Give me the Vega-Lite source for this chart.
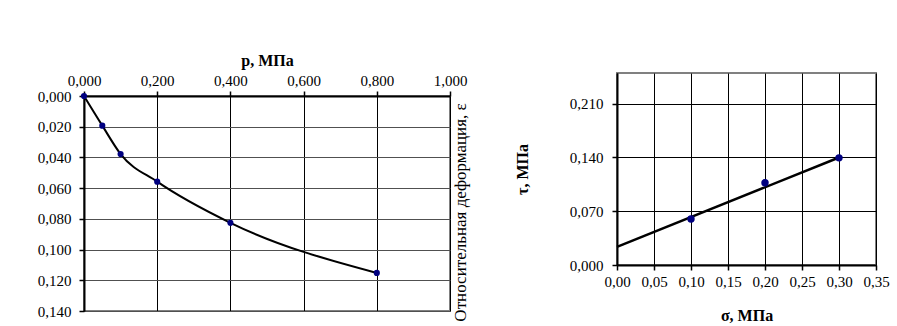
{
  "$schema": "https://vega.github.io/schema/vega-lite/v6.json",
  "padding": {"left": 36, "top": 50, "right": 0, "bottom": 0},
  "background": "white",
  "spacing": 44,
  "config": {
    "font": "Liberation Serif",
    "view": {"stroke": "#808080", "strokeWidth": 2},
    "axis": {
      "labelFont": "Liberation Serif", "labelFontSize": 15, "labelColor": "black",
      "labelOverlap": false, "labelFlush": false,
      "titleFont": "Liberation Serif", "titleFontSize": 16, "titleFontWeight": "bold", "titleColor": "black",
      "domainColor": "black", "domainWidth": 2, "tickColor": "black", "tickSize": 5, "tickWidth": 1.5,
      "gridColor": "black", "gridOpacity": 1, "gridWidth": 1
    }
  },
  "hconcat": [
    {"spacing": 0, "vconcat": [
      {"width": 1, "height": 1, "view": {"stroke": null}, "data": {"values": []}, "mark": "point", "encoding": {}},
      {
        "width": 366,
        "height": 215,
        "data": {"values": [
          {"p": 0.0, "e": 0.0},
          {"p": 0.05, "e": 0.0193},
          {"p": 0.1, "e": 0.0378},
          {"p": 0.2, "e": 0.0558},
          {"p": 0.4, "e": 0.0826},
          {"p": 0.8, "e": 0.1152}
        ]},
        "encoding": {
          "x": {"field": "p", "type": "quantitative",
            "scale": {"domain": [0, 1], "nice": false},
            "axis": {"orient": "top", "values": [0, 0.2, 0.4, 0.6, 0.8, 1.0], "title": "p, МПа",
              "labelExpr": "replace(format(datum.value, '.3f'), '.', ',')",
              "labelPadding": 3, "titlePadding": 5, "gridColor": "black"}},
          "y": {"field": "e", "type": "quantitative",
            "scale": {"domain": [0, 0.14], "reverse": true, "nice": false},
            "axis": {"orient": "left", "values": [0, 0.02, 0.04, 0.06, 0.08, 0.1, 0.12, 0.14],
              "title": "Относительная деформация, ε",
              "labelExpr": "replace(format(datum.value, '.3f'), '.', ',')",
              "labelPadding": 8, "gridColor": "#505050",
              "titleFontWeight": "normal", "titleFontSize": 17,
              "titleX": 376, "titleY": 116, "titleAngle": 270, "titleBaseline": "middle", "titleAlign": "center"}}
        },
        "layer": [
          {"mark": {"type": "line", "interpolate": "monotone", "color": "black", "strokeWidth": 2}},
          {"mark": {"type": "circle", "color": "#000080", "size": 38, "opacity": 1}}
        ]
      }
    ]},
    {"spacing": 0, "vconcat": [
      {"width": 1, "height": 22, "view": {"stroke": null}, "data": {"values": []}, "mark": "point", "encoding": {}},
      {
        "width": 259,
        "height": 192,
        "data": {"values": [
          {"sigma": 0.1, "tau": 0.060, "series": "points"},
          {"sigma": 0.2, "tau": 0.107, "series": "points"},
          {"sigma": 0.3, "tau": 0.1395, "series": "points"},
          {"sigma": 0.0, "tau": 0.0235, "series": "trend"},
          {"sigma": 0.3, "tau": 0.1400, "series": "trend"}
        ]},
        "encoding": {
          "x": {"field": "sigma", "type": "quantitative",
            "scale": {"domain": [0, 0.35], "nice": false},
            "axis": {"values": [0, 0.05, 0.1, 0.15, 0.2, 0.25, 0.3, 0.35], "title": "σ, МПа",
              "labelExpr": "replace(format(datum.value, '.2f'), '.', ',')",
              "labelPadding": 4, "titlePadding": 18}},
          "y": {"field": "tau", "type": "quantitative",
            "scale": {"domain": [0, 0.25], "nice": false},
            "axis": {"values": [0, 0.07, 0.14, 0.21], "title": "τ, МПа",
              "labelExpr": "replace(format(datum.value, '.3f'), '.', ',')",
              "labelPadding": 9, "titlePadding": 39}}
        },
        "layer": [
          {"transform": [{"filter": "datum.series === 'trend'"}],
           "mark": {"type": "line", "color": "black", "strokeWidth": 2.5}},
          {"transform": [{"filter": "datum.series === 'points'"}],
           "mark": {"type": "circle", "color": "#000080", "size": 55, "opacity": 1}}
        ]
      }
    ]}
  ]
}
